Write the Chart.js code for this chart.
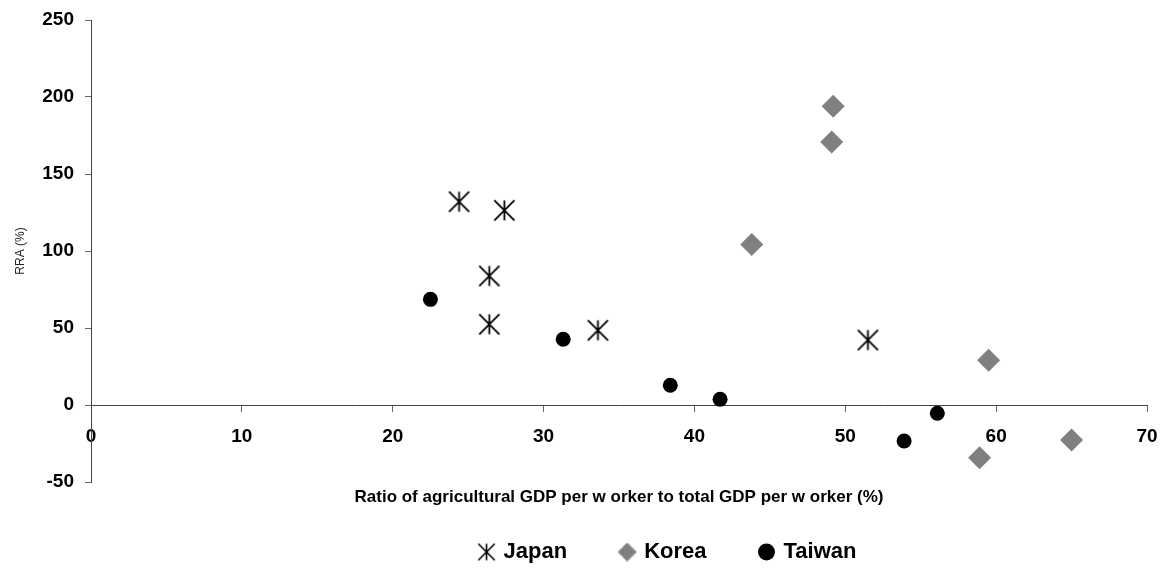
<!DOCTYPE html>
<html>
<head>
<meta charset="utf-8">
<script src="https://cdn.jsdelivr.net/npm/chart.js@4/dist/chart.umd.min.js"></script>
<style>
  body { margin: 0; background: #fff; }
  #wrap { width: 1168px; height: 571px; }
</style>
</head>
<body>
<div id="wrap"><canvas id="chart"></canvas></div>
<script>
// values
const japanX  = [24.4, 27.4, 26.4, 26.4, 33.6, 51.5];
const japanY  = [132, 126.4, 83.8, 52.4, 48.5, 42.2];
const koreaX  = [49.2, 49.1, 43.8, 59.5, 58.9, 65.0];
const koreaY  = [194, 170.8, 104.3, 29, -34.2, -22.7];
const taiwanX = [22.5, 31.3, 38.4, 41.7, 56.1, 53.9];
const taiwanY = [68.6, 42.7, 12.8, 3.7, -5.4, -23.4];

const xTitle = 'Ratio of agricultural GDP per w orker to total GDP per w orker (%)';
const yTitle = 'RRA (%)';

const FONT = '"Liberation Sans", Arial, sans-serif';
const LEGEND_SHIFT_X = 95;
const LEGEND_SHIFT_Y = 5;

const toPoints = (xs, ys) => xs.map((x, i) => ({ x, y: ys[i] }));

// asterisk marker (vertical bar + two diagonals), not in Chart.js' set
function asterisk(size, lw) {
  const c = document.createElement('canvas');
  c.width = size; c.height = size;
  const g = c.getContext('2d');
  const m = lw / 2 + 0.5, e = size - m, mid = size / 2;
  g.strokeStyle = '#000';
  g.lineWidth = lw;
  g.beginPath();
  g.moveTo(mid, m); g.lineTo(mid, e);
  g.moveTo(m, m);   g.lineTo(e, e);
  g.moveTo(e, m);   g.lineTo(m, e);
  g.stroke();
  return c;
}
// legend diamond, a bit bigger than rectRot gets at this box size
function diamond(size, color) {
  const c = document.createElement('canvas');
  c.width = size; c.height = size;
  const g = c.getContext('2d');
  const h = size / 2;
  g.fillStyle = color;
  g.beginPath();
  g.moveTo(h, 0); g.lineTo(size, h); g.lineTo(h, size); g.lineTo(0, h);
  g.closePath();
  g.fill();
  return c;
}
const starBig = asterisk(23, 1.8);
const starSmall = asterisk(19, 1.6);
const diamondSmall = diamond(19, '#808080');

// nudge the legend to where the original sits
const legendShift = {
  id: 'legendShift',
  afterLayout(chart) {
    const lg = chart.legend;
    lg.left += LEGEND_SHIFT_X; lg.right += LEGEND_SHIFT_X;
    lg.top += LEGEND_SHIFT_Y;  lg.bottom += LEGEND_SHIFT_Y;
  }
};

new Chart(document.getElementById('chart'), {
  type: 'scatter',
  data: {
    datasets: [
      { label: 'Japan', data: toPoints(japanX, japanY), pointStyle: starBig,
        pointRadius: 11, backgroundColor: '#000', borderColor: '#000' },
      { label: 'Korea', data: toPoints(koreaX, koreaY), pointStyle: 'rectRot',
        pointRadius: 11.5, backgroundColor: '#808080', borderColor: '#808080', borderWidth: 0 },
      { label: 'Taiwan', data: toPoints(taiwanX, taiwanY), pointStyle: 'circle',
        pointRadius: 7.5, backgroundColor: '#000', borderColor: '#000', borderWidth: 0 }
    ]
  },
  options: {
    responsive: true,
    maintainAspectRatio: false,
    animation: false,
    events: [],
    layout: { padding: { left: 0, right: 21, top: 20, bottom: 3 } },
    scales: {
      x: {
        type: 'linear',
        position: { y: 0 },
        min: 0, max: 70,
        // tick padding would otherwise eat into the plot edges
        afterFit: s => { s.paddingLeft = 0; s.paddingRight = 0; },
        ticks: { stepSize: 10, color: '#000', padding: 14,
                 font: { family: FONT, size: 19, weight: 'bold' } },
        grid: { drawOnChartArea: false, drawTicks: true, tickLength: 6, color: '#666' },
        border: { color: '#444', width: 1 },
        title: { display: true, text: xTitle, color: '#000',
                 padding: { top: 25, bottom: 0 },
                 font: { family: FONT, size: 17, weight: 'bold' } }
      },
      y: {
        type: 'linear',
        position: 'left',
        min: -50, max: 250,
        afterFit: s => { s.width = 91; s.paddingTop = 0; s.paddingBottom = 0; },
        ticks: { stepSize: 50, color: '#000', padding: 11,
                 font: { family: FONT, size: 19, weight: 'bold' } },
        grid: { drawOnChartArea: false, drawTicks: true, tickLength: 6, color: '#666' },
        border: { color: '#444', width: 1 },
        title: { display: true, text: yTitle, color: '#222',
                 padding: { top: 13, bottom: 0 },
                 font: { family: FONT, size: 12 } }
      }
    },
    plugins: {
      tooltip: { enabled: false },
      legend: {
        position: 'bottom',
        labels: {
          usePointStyle: true,
          boxWidth: 12,
          boxHeight: 12,
          padding: 54,
          color: '#000',
          font: { family: FONT, size: 22, weight: 'bold' },
          generateLabels: chart => {
            const items = Chart.defaults.plugins.legend.labels.generateLabels(chart);
            items[0].pointStyle = starSmall;
            items[1].pointStyle = diamondSmall;
            return items;
          }
        }
      }
    }
  },
  plugins: [legendShift]
});
</script>
</body>
</html>
